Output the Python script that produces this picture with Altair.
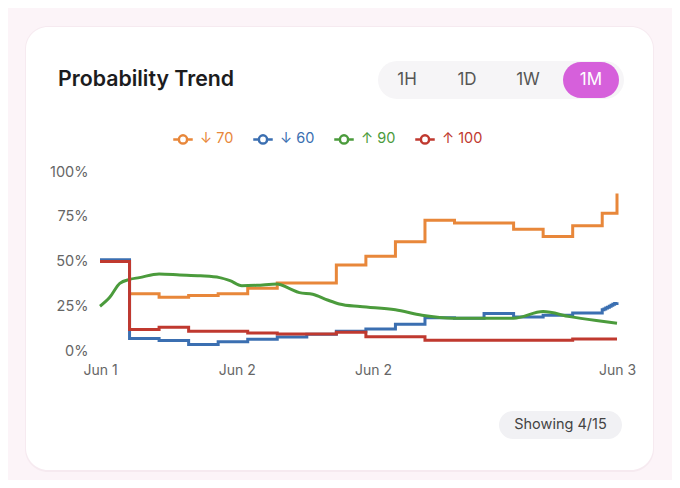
import altair as alt
import pandas as pd

# ---------------- data ----------------
series_names = ["↓ 70", "↓ 60", "↑ 90", "↑ 100"]
series_colors = ["#e8873a", "#3b6fb1", "#4b9b3c", "#c0392f"]

orange_x = [1, 2, 3, 4, 5, 6, 7, 8, 9, 10, 11, 12, 13, 14, 15, 16, 17, 17.5]
orange_y = [32, 30, 31, 32, 35, 38, 38, 48, 53, 61, 73, 71.5, 71.5, 68, 64, 70, 77, 88]

blue_x = [0, 1, 2, 3, 4, 5, 6, 7, 8, 9, 10, 11, 12, 13, 14, 15, 16, 17,
          17.06, 17.12, 17.18, 17.24, 17.3, 17.36, 17.42, 17.5]
blue_y = [51, 7, 5.8, 3.7, 5.2, 6.5, 7.8, 9.3, 11, 12.3, 15, 18.6, 18.3, 21, 19, 20, 21.2, 23,
          23.5, 24, 24.5, 25, 25.6, 26.1, 26.6, 27.2]

green_x = [0, 0.33, 0.67, 1, 1.33, 2, 2.7, 3.4, 4.05, 4.4, 4.8, 5.3, 6, 6.4, 6.75, 7.2, 7.7,
           8.1, 8.8, 10, 10.9, 11.95, 14, 15, 15.9, 16.8, 17.5]
green_y = [25, 30, 37.8, 40, 41, 43, 42.5, 42, 41, 39.3, 36.5, 36.7, 37.4, 35, 32.6, 31.7, 28.5,
           26.3, 24.8, 23, 20, 18.3, 18.3, 22, 19.2, 17, 15.5]

red_x = [0, 1, 2, 3, 4, 5, 6, 7, 8, 9, 10, 11, 12, 13, 14, 15, 16, 17, 17.5]
red_y = [50, 12, 13.2, 11, 11, 10, 9.5, 9.5, 10.5, 8, 8, 6, 6, 6, 6, 6, 6.7, 6.7, 6.7]

x_tick_values = [0, 4.63, 9.24, 17.5]
x_tick_labels = ["Jun 1", "Jun 2", "Jun 2", "Jun 3"]
y_tick_values = [0, 25, 50, 75, 100]

buttons = ["1H", "1D", "1W", "1M"]
active_button = "1M"
title_text = "Probability Trend"
footer_text = "Showing 4/15"

# ---------------- build ----------------
frames = []
for name, xs, ys in [(series_names[0], orange_x, orange_y),
                     (series_names[1], blue_x, blue_y),
                     (series_names[2], green_x, green_y),
                     (series_names[3], red_x, red_y)]:
    frames.append(pd.DataFrame({"x": xs, "p": ys, "series": name}))
df = pd.concat(frames, ignore_index=True)

FONT = "Inter"
W, H = 517, 179

label_expr = " : ".join(
    f"abs(datum.value - {v}) < 0.01 ? '{l}'" for v, l in zip(x_tick_values, x_tick_labels)
) + " : ''"

color_expr = " : ".join(
    f"datum.label == '{n}' ? '{c}'" for n, c in zip(series_names, series_colors)
) + " : '#333'"

legend_symbol = ("M-1,0L-0.42,0M0.42,0L1,0M0.42,0A0.42,0.42,0,1,1,-0.42,0"
                 "A0.42,0.42,0,1,1,0.42,0")

x_enc = alt.X("x:Q", scale=alt.Scale(domain=[0, 17.5], nice=False, zero=False),
              axis=alt.Axis(values=x_tick_values, labelExpr=label_expr, title=None,
                            domain=False, ticks=False, grid=False, labelPadding=12,
                            labelFont=FONT, labelFontSize=14, labelColor="#666666",
                            labelOverlap=False, labelFlush=False, zindex=1))
y_enc = alt.Y("p:Q", scale=alt.Scale(domain=[0, 100], nice=False),
              axis=alt.Axis(values=y_tick_values, labelExpr="datum.value + '%'", title=None,
                            domain=False, ticks=False, grid=False, labelPadding=12,
                            labelFont=FONT, labelFontSize=14.5, labelColor="#666666",
                            zindex=1))
color_enc = alt.Color("series:N",
                      scale=alt.Scale(domain=series_names, range=series_colors),
                      legend=alt.Legend(orient="none", legendX=72, legendY=-44,
                                        direction="horizontal", title=None,
                                        symbolType=legend_symbol, symbolSize=380,
                                        symbolStrokeWidth=2.5, symbolFillColor="white",
                                        labelFont=FONT, labelFontSize=14.5,
                                        labelColor=alt.ExprRef(expr=color_expr),
                                        labelOffset=6, columnPadding=14, padding=0))

one = pd.DataFrame({"a": [0]})

def rect(x, x2, y, y2, fill, r=0, **kw):
    return alt.Chart(one).mark_rect(fill=fill, cornerRadius=r, **kw).encode(
        x=alt.value(x), x2=alt.value(x2), y=alt.value(y), y2=alt.value(y2))

def text(s, x, y, size, color, weight="normal", align="center", baseline="middle"):
    return alt.Chart(one).mark_text(text=s, font=FONT, fontSize=size, color=color,
                                    fontWeight=weight, align=align, baseline=baseline
                                    ).encode(x=alt.value(x), y=alt.value(y))

layers = [
    rect(-92, 572, -164, 308, "#fcf4f8"),
    rect(-75, 554, -146, 300, "#f6eaf0", r=23),
    rect(-74, 553, -145, 298, "#ffffff", r=22),
    text(title_text, -42, -92, 21.3, "#1c1c1e", weight=600, align="left"),
    rect(278, 524, -111, -73, "#f6f5f7", r=19),
    rect(463, 519, -110, -74, "#d660db", r=18),
]
btn_x = [307, 367, 428, 491]
for b, bx in zip(buttons, btn_x):
    layers.append(text(b, bx, -92, 17, "#ffffff" if b == active_button else "#555555"))
layers += [
    rect(399, 522, 239, 267, "#f1f1f4", r=14),
    text(footer_text, 460.5, 253, 14.5, "#444444"),
]

for name in series_names:
    sub = df[df.series == name]
    interp = "monotone" if name == series_names[2] else "step-after"
    layers.append(
        alt.Chart(sub).mark_line(interpolate=interp, strokeWidth=3).encode(
            x=x_enc, y=y_enc, color=color_enc)
    )

chart = alt.layer(*layers).properties(width=W, height=H, padding=0).configure_view(
    stroke=None).configure(background="#fcf4f8")

chart.save("out.html", embed_options={"renderer": "svg", "actions": False})
